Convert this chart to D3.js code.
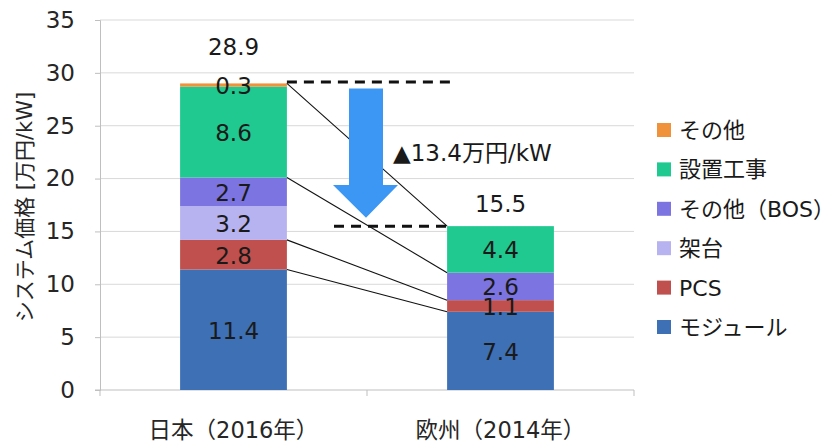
<!DOCTYPE html>
<html>
<head>
<meta charset="utf-8">
<script src="https://cdn.jsdelivr.net/npm/d3@7"></script>
<style>
  body { margin: 0; background: #fff; }
  text { font-family: "DejaVu Sans", "Noto Sans CJK JP", sans-serif; }
</style>
</head>
<body>
<div id="chart"></div>
<script>
// data
var categories = ["日本（2016年）", "欧州（2014年）"];
var seriesNames = ["モジュール", "PCS", "架台", "その他（BOS）", "設置工事", "その他"];
var seriesColors = ["#3e70b5", "#c0504d", "#b7b2f0", "#7c74e0", "#1fc98f", "#f0923a"];
var japanValues = [11.4, 2.8, 3.2, 2.7, 8.6, 0.3];
var europeValues = [7.4, 1.1, 0, 2.6, 4.4, 0];
var totals = [28.9, 15.5];
var yTicks = [0, 5, 10, 15, 20, 25, 30, 35];
var diffLabel = "▲13.4万円/kW";
var yTitle = "システム価格 [万円/kW]";

var W = 837, H = 448;
var plot = {left: 100, right: 634, top: 20, bottom: 390};

var svg = d3.select("#chart").append("svg")
  .attr("width", W).attr("height", H);

var x = d3.scaleBand().domain(categories).range([plot.left, plot.right]);
var y = d3.scaleLinear().domain([0, 35]).range([plot.bottom, plot.top]);
var barW = x.bandwidth() * 0.4;
function barX(c) { return x(c) + (x.bandwidth() - barW) / 2; }

// gridlines
svg.append("g").selectAll("line").data(yTicks.filter(function(d){ return d > 0; }))
  .enter().append("line")
  .attr("x1", plot.left).attr("x2", plot.right)
  .attr("y1", function(d){ return y(d); }).attr("y2", function(d){ return y(d); })
  .attr("stroke", "#d9d9d9").attr("stroke-width", 1);

// y axis
var yAxis = svg.append("g").attr("transform", "translate(" + plot.left + ",0)")
  .call(d3.axisLeft(y).tickValues(yTicks).tickSize(5).tickPadding(20));
yAxis.select(".domain").attr("stroke", "#bfbfbf");
yAxis.selectAll(".tick line").attr("stroke", "#bfbfbf");
yAxis.selectAll("text").attr("font-size", 23).attr("fill", "#262626")
  .style("font-family", "'DejaVu Sans', sans-serif");

// x axis
var xAxis = svg.append("g").attr("transform", "translate(0," + plot.bottom + ")");
xAxis.append("line").attr("x1", plot.left - 5).attr("x2", plot.right)
  .attr("stroke", "#bfbfbf");
var bounds = [plot.left, x(categories[1]), plot.right];
xAxis.selectAll("line.tk").data(bounds).enter().append("line").attr("class", "tk")
  .attr("x1", function(d){ return d; }).attr("x2", function(d){ return d; })
  .attr("y1", 0).attr("y2", 6).attr("stroke", "#bfbfbf");
xAxis.selectAll("text").data(categories).enter().append("text")
  .attr("x", function(d){ return x(d) + x.bandwidth() / 2; })
  .attr("y", 48).attr("text-anchor", "middle")
  .attr("font-size", 22.5).attr("fill", "#262626")
  .text(function(d){ return d; });

// y title
svg.append("text")
  .attr("transform", "translate(32," + 207 + ") rotate(-90)")
  .attr("text-anchor", "middle").attr("font-size", 21).attr("fill", "#262626")
  .text(yTitle);

// stacked bars
var rows = [japanValues, europeValues];
var stacks = rows.map(function(vals) {
  var acc = 0;
  return vals.map(function(v, i) { var s = {y0: acc, y1: acc + v, v: v, i: i}; acc += v; return s; });
});

stacks.forEach(function(stack, ci) {
  var cat = categories[ci];
  var g = svg.append("g");
  g.selectAll("rect").data(stack.filter(function(d){ return d.v > 0; }))
    .enter().append("rect")
    .attr("x", barX(cat)).attr("width", barW)
    .attr("y", function(d){ return y(d.y1); })
    .attr("height", function(d){ return y(d.y0) - y(d.y1); })
    .attr("fill", function(d){ return seriesColors[d.i]; });
});

// connector lines between the bars
var links = [0, 1, 3, 5];
var cumJ = stacks[0], cumE = stacks[1];
svg.append("g").selectAll("line").data(links).enter().append("line")
  .attr("x1", barX(categories[0]) + barW)
  .attr("x2", barX(categories[1]))
  .attr("y1", function(i){ return y(cumJ[i].y1); })
  .attr("y2", function(i){ return y(cumE[i].y1); })
  .attr("stroke", "#111").attr("stroke-width", 1.1);

// segment labels
stacks.forEach(function(stack, ci) {
  var cat = categories[ci];
  svg.append("g").selectAll("text").data(stack.filter(function(d){ return d.v > 0; }))
    .enter().append("text")
    .attr("x", barX(cat) + barW / 2)
    .attr("y", function(d){ return (y(d.y0) + y(d.y1)) / 2 + 9; })
    .attr("text-anchor", "middle").attr("font-size", 23).attr("fill", "#1a1a1a")
    .text(function(d){ return d.v.toFixed(1); });
});

// totals
svg.append("g").selectAll("text").data(totals).enter().append("text")
  .attr("x", function(d, i){ return x(categories[i]) + x.bandwidth() / 2; })
  .attr("y", function(d, i){ return y(i === 0 ? 32.5 : 17.7) + 9; })
  .attr("text-anchor", "middle").attr("font-size", 23).attr("fill", "#1a1a1a")
  .text(function(d){ return d.toFixed(1); });

// dashed reference lines
var topJ = cumJ[5].y1, topE = cumE[5].y1;
svg.append("line")
  .attr("x1", barX(categories[0]) + barW).attr("x2", x(categories[1]) + 86)
  .attr("y1", y(topJ) - 1.5).attr("y2", y(topJ) - 1.5)
  .attr("stroke", "#111").attr("stroke-width", 3).attr("stroke-dasharray", "10,7");
svg.append("line")
  .attr("x1", x(categories[1]) - 33).attr("x2", barX(categories[1]))
  .attr("y1", y(topE)).attr("y2", y(topE))
  .attr("stroke", "#111").attr("stroke-width", 3).attr("stroke-dasharray", "10,7");

// arrow
var ax = x(categories[1]) - 1;
var aTop = y(topJ) + 5, aNeck = y(19.4), aTip = y(16.3);
svg.append("path")
  .attr("d", "M" + (ax - 17) + "," + aTop + "L" + (ax + 17) + "," + aTop +
    "L" + (ax + 17) + "," + aNeck + "L" + (ax + 32) + "," + aNeck +
    "L" + ax + "," + aTip + "L" + (ax - 33) + "," + aNeck +
    "L" + (ax - 17) + "," + aNeck + "Z")
  .attr("fill", "#3b97f3");

svg.append("text")
  .attr("x", ax + 27).attr("y", y(22.5) + 9)
  .attr("font-size", 23).attr("fill", "#1a1a1a")
  .text(diffLabel);

// legend (top to bottom reversed order)
var legend = svg.append("g").attr("transform", "translate(657,0)");
var order = seriesNames.map(function(d, i){ return i; }).reverse();
var lg = legend.selectAll("g").data(order).enter().append("g")
  .attr("transform", function(d, k){ return "translate(0," + (130 + k * 39.4) + ")"; });
lg.append("rect").attr("x", 0).attr("y", -7).attr("width", 14).attr("height", 14)
  .attr("fill", function(i){ return seriesColors[i]; });
lg.append("text").attr("x", 22).attr("y", 8).attr("font-size", 22).attr("fill", "#1a1a1a")
  .text(function(i){ return seriesNames[i]; });
</script>
</body>
</html>
